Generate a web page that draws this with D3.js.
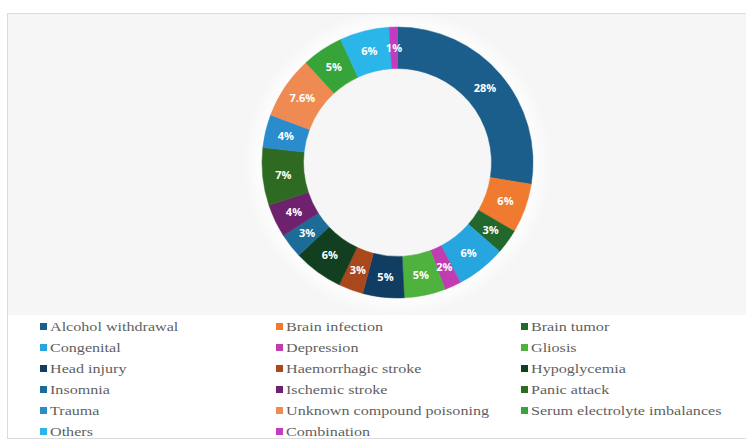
<!DOCTYPE html>
<html>
<head>
<meta charset="utf-8">
<script src="https://cdn.jsdelivr.net/npm/d3@7/dist/d3.min.js"></script>
<style>
  html, body { margin: 0; padding: 0; background: #ffffff; }
  svg { display: block; }
</style>
</head>
<body>
<svg id="chart" width="746" height="446"></svg>
<script>
// Causes, in the order they run clockwise from 12 o'clock
const categories = [
  "Alcohol withdrawal", "Brain infection", "Brain tumor", "Congenital",
  "Depression", "Gliosis", "Head injury", "Haemorrhagic stroke",
  "Hypoglycemia", "Insomnia", "Ischemic stroke", "Panic attack",
  "Trauma", "Unknown compound poisoning", "Serum electrolyte imbalances",
  "Others", "Combination"
];
// Share of cases (%)
const shares = [28, 6, 3, 6, 2, 5, 5, 3, 6, 3, 4, 7, 4, 7.6, 5, 6, 1];
// Printed slice labels
const sliceLabels = ["28%", "6%", "3%", "6%", "2%", "5%", "5%", "3%", "6%",
                     "3%", "4%", "7%", "4%", "7.6%", "5%", "6%", "1%"];
const colors = [
  "#1b5e8b", "#ef7a30", "#22682c", "#27a5de", "#c03cb0", "#4fb23e",
  "#113d62", "#a9481c", "#123f1f", "#1d6c98", "#6e226d", "#2e6a21",
  "#2a8bcd", "#ef8a52", "#37a43a", "#2bb6ea", "#c33bbf"
];

const svg = d3.select("#chart");

// Panel frame and plot-area fill
svg.append("rect")
  .attr("x", 7.5).attr("y", 13.5).attr("width", 745).attr("height", 425)
  .attr("fill", "#ffffff").attr("stroke", "#dcdcdc");
svg.append("rect")
  .attr("x", 8).attr("y", 14).attr("width", 738).attr("height", 301)
  .attr("fill", "#f6f6f6");

const defs = svg.append("defs");
defs.append("filter").attr("id", "glow")
  .attr("x", "-20%").attr("y", "-20%").attr("width", "140%").attr("height", "140%")
  .append("feGaussianBlur").attr("stdDeviation", 6);

const cx = 397.5, cy = 162.5, outerR = 135.5, innerR = 94;

const g = svg.append("g").attr("transform", `translate(${cx},${cy})`);

// soft light halo around the ring
g.append("circle").attr("r", outerR + 4)
  .attr("fill", "none").attr("stroke", "#ffffff").attr("stroke-width", 10)
  .attr("filter", "url(#glow)");

const color = d3.scaleOrdinal().domain(categories).range(colors);

const pie = d3.pie().sort(null).value(d => d.value);
const arcs = pie(categories.map((c, i) => ({ name: c, value: shares[i], label: sliceLabels[i] })));

const arc = d3.arc().innerRadius(innerR).outerRadius(outerR);
const labelArc = d3.arc().innerRadius((innerR + outerR) / 2).outerRadius((innerR + outerR) / 2);

g.selectAll("path.slice")
  .data(arcs)
  .join("path")
  .attr("class", "slice")
  .attr("d", arc)
  .attr("fill", d => color(d.data.name))
  .attr("stroke", d => color(d.data.name))
  .attr("stroke-width", 0.5);

g.selectAll("text.pct")
  .data(arcs)
  .join("text")
  .attr("class", "pct")
  .attr("transform", d => `translate(${labelArc.centroid(d)})`)
  .attr("text-anchor", "middle")
  .attr("dy", "0.36em")
  .attr("fill", "#ffffff")
  .style("font-family", "'Open Sans', 'DejaVu Sans', sans-serif")
  .style("font-weight", "bold")
  .style("font-size", "11px")
  .text(d => d.data.label);

// Legend: three columns, filled row by row
const colX = [40, 276, 521];
const rowY0 = 327, rowStep = 21;

const legend = svg.append("g");
const items = legend.selectAll("g.item")
  .data(categories)
  .join("g")
  .attr("class", "item")
  .attr("transform", (d, i) => `translate(${colX[i % 3]},${rowY0 + Math.floor(i / 3) * rowStep})`);

items.append("rect")
  .attr("x", 0).attr("y", -4).attr("width", 7).attr("height", 7)
  .attr("fill", d => color(d));

// wide-set serif legend type
items.append("text")
  .attr("transform", "translate(10,0) scale(1.24,1)")
  .attr("dy", "0.33em")
  .attr("fill", "#5f5f5f")
  .style("font-family", "'Liberation Serif', 'DejaVu Serif', serif")
  .style("font-size", "13px")
  .text(d => d);
</script>
</body>
</html>
